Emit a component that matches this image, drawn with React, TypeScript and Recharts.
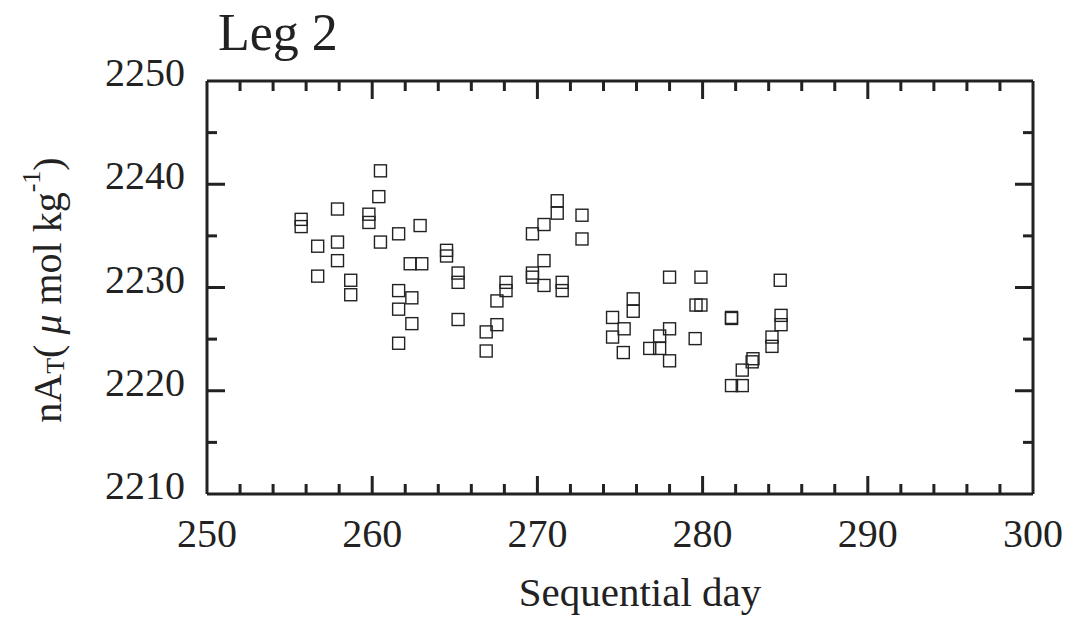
import React from 'react';
import { ScatterChart, Scatter, XAxis, YAxis, Label } from 'recharts';

const days = [
  255.7, 255.7, 256.7, 256.7, 257.9, 257.9, 257.9, 258.7, 258.7, 259.8,
  259.8, 260.5, 260.4, 260.5, 261.6, 261.6, 261.6, 261.6, 262.4, 262.4,
  262.3, 263.0, 262.9, 264.5, 264.5, 265.2, 265.2, 265.2, 266.9, 266.9,
  267.55, 267.55, 268.1, 268.1, 269.7, 269.7, 269.7, 270.4, 270.4, 270.4,
  271.2, 271.2, 271.5, 271.5, 272.7, 272.7, 274.55, 274.55, 275.25, 275.2,
  275.8, 275.8, 276.8, 277.4, 277.4, 278.0, 278.0, 278.0, 279.6, 279.9,
  279.55, 279.9, 281.75, 281.75, 281.75, 282.4, 282.4, 283.05, 283.0, 284.2,
  284.2, 284.75, 284.75, 284.7,
];
const nat = [
  2236.6, 2235.9, 2234.0, 2231.1, 2237.6, 2234.4, 2232.6, 2230.7, 2229.3, 2237.1,
  2236.3, 2241.3, 2238.8, 2234.4, 2235.2, 2229.7, 2227.9, 2224.6, 2229.0, 2226.5,
  2232.3, 2232.3, 2236.0, 2233.6, 2233.05, 2231.4, 2230.5, 2226.9, 2225.7, 2223.85,
  2228.7, 2226.4, 2230.5, 2229.7, 2235.2, 2231.4, 2231.0, 2236.1, 2232.6, 2230.2,
  2238.4, 2237.2, 2230.5, 2229.7, 2237.0, 2234.7, 2227.1, 2225.2, 2226.0, 2223.7,
  2228.9, 2227.7, 2224.1, 2225.3, 2224.1, 2231.0, 2226.0, 2222.9, 2228.3, 2228.3,
  2225.05, 2231.0, 2227.0, 2227.1, 2220.5, 2220.5, 2222.0, 2223.1, 2222.8, 2225.2,
  2224.3, 2227.3, 2226.4, 2230.7,
];

const xTicks = [250, 252, 254, 256, 258, 260, 262, 264, 266, 268, 270, 272, 274, 276, 278, 280, 282, 284, 286, 288, 290, 292, 294, 296, 298, 300];
const yTicks = [2210, 2215, 2220, 2225, 2230, 2235, 2240, 2245, 2250];
const xMajor = [250, 260, 270, 280, 290, 300];
const yMajor = [2210, 2220, 2230, 2240, 2250];

const data = days.map((d, i) => ({ x: d, y: nat[i] }));

const INK = '#222';
const FONT = '"Liberation Serif", "DejaVu Serif", serif';

const BottomTick = (p: any) => {
  const v = p.payload.value;
  const major = xMajor.includes(v);
  const len = major ? 18 : 10;
  return (
    <g>
      {v !== 250 && v !== 300 && (
        <line x1={p.x} y1={p.y} x2={p.x} y2={p.y - len} stroke={INK} strokeWidth={3} />
      )}
      {major && (
        <text x={p.x} y={p.y + 53} textAnchor="middle" fontSize={40} fontFamily={FONT} fill={INK}>
          {v}
        </text>
      )}
    </g>
  );
};

const TopTick = (p: any) => {
  const v = p.payload.value;
  const major = xMajor.includes(v);
  const len = major ? 18 : 10;
  if (v === 250 || v === 300) return <g />;
  return <line x1={p.x} y1={p.y} x2={p.x} y2={p.y + len} stroke={INK} strokeWidth={3} />;
};

const LeftTick = (p: any) => {
  const v = p.payload.value;
  const major = yMajor.includes(v);
  const len = major ? 18 : 10;
  return (
    <g>
      {v !== 2210 && v !== 2250 && (
        <line x1={p.x} y1={p.y} x2={p.x + len} y2={p.y} stroke={INK} strokeWidth={3} />
      )}
      {major && (
        <text x={p.x - 22} y={p.y + 5} textAnchor="end" fontSize={40} fontFamily={FONT} fill={INK}>
          {v}
        </text>
      )}
    </g>
  );
};

const RightTick = (p: any) => {
  const v = p.payload.value;
  const major = yMajor.includes(v);
  const len = major ? 18 : 10;
  if (v === 2210 || v === 2250) return <g />;
  return <line x1={p.x} y1={p.y} x2={p.x - len} y2={p.y} stroke={INK} strokeWidth={3} />;
};

const SquareShape = (p: any) => {
  if (p.cx == null || p.cy == null) return <g />;
  return (
    <rect x={p.cx - 6} y={p.cy - 6} width={12} height={12} fill="none" stroke={INK} strokeWidth={1.4} />
  );
};

const EmptyShape = () => <g />;

const XLabel = () => (
  <text x={640} y={606} textAnchor="middle" fontSize={41} fontFamily={FONT} fill={INK}>
    Sequential day
  </text>
);

const YLabel = () => (
  <text
    transform="rotate(-90 47 290)"
    x={47}
    y={290}
    textAnchor="middle"
    dominantBaseline="central"
    fontSize={40}
    fontFamily={FONT}
    fill={INK}
  >
    <tspan>nA</tspan>
    <tspan fontSize={26} dy={8}>T</tspan>
    <tspan dy={-8}>( </tspan>
    <tspan fontStyle="italic">μ</tspan>
    <tspan> mol kg</tspan>
    <tspan fontSize={26} dy={-16}>-1</tspan>
    <tspan dy={16}>)</tspan>
  </text>
);

const Title = () => (
  <text x={218} y={50} fontSize={52} fontFamily={FONT} fill={INK}>
    Leg 2
  </text>
);

export default function App() {
  return (
    <div style={{ position: 'absolute', left: 0, top: 0, background: '#fff' }}>
      <ScatterChart width={1071} height={625} margin={{ top: 80, right: 37, left: 0, bottom: 0 }}>
        <XAxis
          xAxisId="b"
          dataKey="x"
          type="number"
          domain={[250, 300]}
          ticks={xTicks}
          allowDataOverflow
          height={131}
          tickSize={0}
          tickMargin={0}
          tickLine={false}
          axisLine={{ stroke: INK, strokeWidth: 3 }}
          tick={<BottomTick />}
          interval={0}
        >
          <Label content={<XLabel />} />
        </XAxis>
        <XAxis
          xAxisId="t"
          dataKey="x"
          orientation="top"
          type="number"
          domain={[250, 300]}
          ticks={xTicks}
          allowDataOverflow
          height={1}
          tickSize={0}
          tickMargin={0}
          tickLine={false}
          axisLine={{ stroke: INK, strokeWidth: 3 }}
          tick={<TopTick />}
          interval={0}
        />
        <YAxis
          yAxisId="l"
          dataKey="y"
          type="number"
          domain={[2210, 2250]}
          ticks={yTicks}
          allowDataOverflow
          width={207}
          tickSize={0}
          tickMargin={0}
          tickLine={false}
          axisLine={{ stroke: INK, strokeWidth: 3 }}
          tick={<LeftTick />}
          interval={0}
        >
          <Label content={<YLabel />} />
          <Label content={<Title />} />
        </YAxis>
        <YAxis
          yAxisId="r"
          dataKey="y"
          orientation="right"
          type="number"
          domain={[2210, 2250]}
          ticks={yTicks}
          allowDataOverflow
          width={1}
          tickSize={0}
          tickMargin={0}
          tickLine={false}
          axisLine={{ stroke: INK, strokeWidth: 3 }}
          tick={<RightTick />}
          interval={0}
        />
        <Scatter
          data={data}
          xAxisId="t"
          yAxisId="r"
          shape={<EmptyShape />}
          isAnimationActive={false}
        />
        <Scatter
          data={data}
          xAxisId="b"
          yAxisId="l"
          shape={<SquareShape />}
          isAnimationActive={false}
        />
      </ScatterChart>
    </div>
  );
}
